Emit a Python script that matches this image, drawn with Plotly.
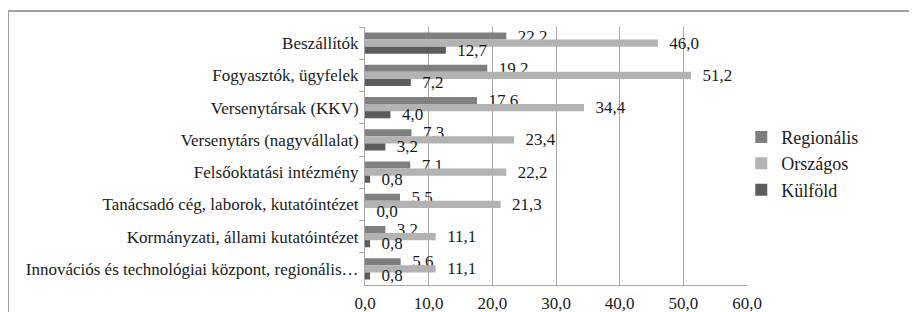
import plotly.graph_objects as go

categories = [
    "Beszállítók",
    "Fogyasztók, ügyfelek",
    "Versenytársak (KKV)",
    "Versenytárs (nagyvállalat)",
    "Felsőoktatási intézmény",
    "Tanácsadó cég, laborok, kutatóintézet",
    "Kormányzati, állami kutatóintézet",
    "Innovációs és technológiai központ, regionális…",
]
regionalis = [22.2, 19.2, 17.6, 7.3, 7.1, 5.5, 3.2, 5.6]
orszagos = [46.0, 51.2, 34.4, 23.4, 22.2, 21.3, 11.1, 11.1]
kulfold = [12.7, 7.2, 4.0, 3.2, 0.8, 0.0, 0.8, 0.8]
x_ticks = [0, 10, 20, 30, 40, 50, 60]

series = [
    ("Regionális", regionalis, "#7f7f7f"),
    ("Országos", orszagos, "#b3b3b3"),
    ("Külföld", kulfold, "#5c5c5c"),
]

font_family = "Liberation Serif, Times New Roman, serif"

fig = go.Figure()
for name, vals, color in series:
    fig.add_trace(go.Bar(
        name=name, y=categories, x=vals, orientation="h",
        marker=dict(color=color, line=dict(width=0)),
        text=vals, texttemplate="  %{x:.1f}", textposition="outside",
        constraintext="none", cliponaxis=False,
        textfont=dict(family=font_family, size=17, color="#1a1a1a"),
    ))

# page offset of 8px (body margin) taken into account
W, H = 909, 304
L, R, T, B = 357, 170, 19, 27
pw, ph = W - L - R, H - T - B
x0 = (0 - L) / pw
y1 = (H - B - 3) / ph

fig.update_layout(
    width=W, height=H,
    margin=dict(l=L, r=R, t=T, b=B, pad=0, autoexpand=False),
    paper_bgcolor="white", plot_bgcolor="white",
    barmode="group", bargap=0.34, bargroupgap=0,
    separators=", ",
    font=dict(family=font_family, size=17, color="#1a1a1a"),
    showlegend=True,
    legend=dict(x=0.985, y=0.47, xanchor="left", yanchor="middle",
                font=dict(family=font_family, size=18, color="#1a1a1a"),
                itemwidth=30, tracegroupgap=0, bgcolor="rgba(0,0,0,0)"),
    xaxis=dict(range=[0, 60], tickvals=x_ticks, ticktext=[f"{v:.1f}".replace(".", ",") for v in x_ticks],
               showgrid=True, gridcolor="#a6a6a6", gridwidth=1,
               showline=True, linecolor="#a6a6a6", linewidth=1,
               ticks="", zeroline=False, fixedrange=True, ticklabelstandoff=3,
               automargin=False),
    yaxis=dict(autorange="reversed", showline=True, linecolor="#a6a6a6", linewidth=1,
               ticks="outside", tickson="boundaries", ticklen=5, tickcolor="#a6a6a6",
               showgrid=False, ticklabelstandoff=2, automargin=False),
    shapes=[
        dict(type="line", xref="paper", yref="paper", x0=x0, x1=1 + R / pw + 0.05, y0=y1, y1=y1,
             line=dict(color="#a0a0a0", width=2)),
        dict(type="line", xref="paper", yref="paper", x0=x0, x1=x0, y0=y1, y1=-B / ph - 0.05,
             line=dict(color="#a0a0a0", width=2)),
    ],
)

fig.write_html("out.html")
